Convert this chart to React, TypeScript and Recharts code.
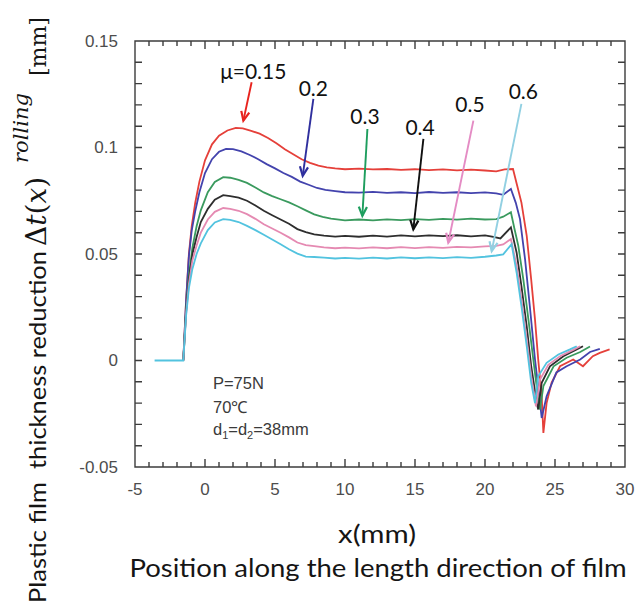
import React from 'react';
import { LineChart, Line, XAxis, YAxis, ReferenceLine, ReferenceDot } from 'recharts';

type Pt = [number, number];

// Thickness reduction profiles (x in mm, reduction in mm) for each friction coefficient
const mu015: Pt[] = [
  [-1.55, 0], [-1.35, 0.028], [-1.15, 0.05], [-0.95, 0.063], [-0.7, 0.074], [-0.4, 0.084], [0, 0.094],
  [0.5, 0.1015], [1.0, 0.1055], [1.6, 0.108], [2.2, 0.1092], [2.7, 0.109], [3.3, 0.1078], [3.9, 0.1065],
  [4.5, 0.1045], [5.1, 0.102], [5.7, 0.0992], [6.3, 0.0968], [6.9, 0.0945], [7.5, 0.0928], [8.1, 0.0915],
  [8.7, 0.0907], [9.3, 0.0902], [10, 0.0898], [11, 0.0901], [12, 0.0897], [13, 0.0899], [14, 0.0895],
  [15, 0.0898], [16, 0.0894], [17, 0.0897], [18, 0.0893], [19, 0.0896], [20, 0.0892], [20.8, 0.0888],
  [21.4, 0.0897], [22.0, 0.0899], [22.3, 0.082], [22.6, 0.0742], [22.98, 0.0585], [23.3, 0.038],
  [23.57, 0.0193], [23.8, 0.0005], [24.05, -0.0168], [24.17, -0.034], [24.4, -0.02], [24.76, -0.0104],
  [25.36, -0.0027], [26.3, 0.0005], [27.0, -0.0027], [27.7, 0.002], [28.2, 0.0036], [28.9, 0.0052],
];

const mu02: Pt[] = [
  [-1.55, 0], [-1.35, 0.028], [-1.15, 0.049], [-0.95, 0.061], [-0.7, 0.07], [-0.4, 0.079], [0, 0.088],
  [0.5, 0.0945], [1.0, 0.098], [1.5, 0.0993], [2.0, 0.0992], [2.6, 0.0982], [3.2, 0.0965], [3.8, 0.0945],
  [4.4, 0.0922], [5.0, 0.0902], [5.6, 0.088], [6.2, 0.0862], [6.8, 0.084], [7.4, 0.0825], [8.0, 0.081],
  [8.6, 0.0801], [9.3, 0.0795], [10, 0.079], [11, 0.0788], [12, 0.0792], [13, 0.0787], [14, 0.079],
  [15, 0.0786], [16, 0.0791], [17, 0.0787], [18, 0.079], [19, 0.0786], [20, 0.0789], [20.8, 0.0785],
  [21.3, 0.0778], [21.85, 0.0805], [22.2, 0.074], [22.5, 0.0664], [22.86, 0.0476], [23.2, 0.0256],
  [23.57, 0.0005], [23.93, -0.0199], [24.05, -0.027], [24.4, -0.0168], [25.1, -0.0056], [25.83, -0.0027],
  [26.8, 0.0005], [27.5, 0.004], [28.2, 0.0055],
];

const mu03: Pt[] = [
  [-1.55, 0], [-1.35, 0.024], [-1.15, 0.04], [-0.9, 0.053], [-0.6, 0.063], [-0.3, 0.0705], [0.2, 0.079],
  [0.7, 0.0838], [1.3, 0.0861], [1.8, 0.0858], [2.4, 0.0848], [3.0, 0.0834], [3.6, 0.0812], [4.2, 0.0789],
  [4.8, 0.0772], [5.4, 0.0757], [6.0, 0.0742], [6.6, 0.0724], [7.2, 0.0705], [7.8, 0.0686], [8.4, 0.0674],
  [9.0, 0.0666], [10, 0.0658], [11, 0.0662], [12, 0.0658], [13, 0.0663], [14, 0.0659], [15, 0.0664],
  [16, 0.066], [17, 0.0665], [18, 0.0661], [19, 0.0666], [20, 0.0662], [20.8, 0.0664], [21.3, 0.0675],
  [21.85, 0.0696], [22.1, 0.062], [22.38, 0.0538], [22.74, 0.038], [23.1, 0.0193], [23.45, 0.0005],
  [23.8, -0.018], [23.93, -0.023], [24.17, -0.012], [24.9, -0.0027], [25.83, 0.0013], [26.8, 0.004],
  [27.5, 0.0066],
];

const mu04: Pt[] = [
  [-1.55, 0], [-1.35, 0.023], [-1.15, 0.038], [-0.9, 0.05], [-0.6, 0.058], [-0.3, 0.065], [0.2, 0.0712],
  [0.7, 0.0755], [1.3, 0.0776], [1.8, 0.0772], [2.4, 0.0765], [3.0, 0.075], [3.6, 0.0728], [4.2, 0.0703],
  [4.8, 0.0682], [5.4, 0.0662], [6.0, 0.0642], [6.6, 0.0617], [7.2, 0.0603], [7.8, 0.0592], [8.5, 0.0586],
  [9.3, 0.0582], [10, 0.0585], [11, 0.0581], [12, 0.0586], [13, 0.0582], [14, 0.0587], [15, 0.0583],
  [16, 0.0587], [17, 0.0584], [18, 0.0588], [19, 0.0583], [20, 0.0587], [20.6, 0.058], [21.1, 0.0573],
  [21.85, 0.0625], [22.26, 0.0506], [22.6, 0.035], [22.98, 0.016], [23.3, -0.0027], [23.7, -0.02],
  [23.8, -0.023], [24.05, -0.0105], [24.64, -0.0027], [25.6, 0.002], [26.55, 0.0052], [27.0, 0.0067],
];

const mu05: Pt[] = [
  [-1.55, 0], [-1.35, 0.022], [-1.15, 0.036], [-0.9, 0.047], [-0.6, 0.054], [-0.3, 0.06], [0.2, 0.0662],
  [0.7, 0.0698], [1.3, 0.0716], [1.8, 0.0712], [2.4, 0.0703], [3.0, 0.0687], [3.6, 0.0665], [4.2, 0.064],
  [4.8, 0.062], [5.4, 0.06], [6.0, 0.0578], [6.6, 0.0554], [7.2, 0.0542], [7.8, 0.0537], [8.5, 0.0531],
  [9.3, 0.0527], [10, 0.053], [11, 0.0526], [12, 0.0531], [13, 0.0527], [14, 0.0532], [15, 0.0528],
  [16, 0.0532], [17, 0.0529], [18, 0.0533], [19, 0.0531], [20, 0.0536], [20.8, 0.0538], [21.3, 0.0545],
  [21.85, 0.057], [22.26, 0.0444], [22.6, 0.0287], [22.98, 0.0099], [23.3, -0.0074], [23.64, -0.0215],
  [23.93, -0.009], [24.52, -0.002], [25.36, 0.002], [26.3, 0.005], [26.8, 0.0067],
];

const mu06: Pt[] = [
  [-3.6, 0], [-1.55, 0], [-1.35, 0.021], [-1.15, 0.034], [-0.9, 0.043], [-0.6, 0.05], [-0.3, 0.055],
  [0.2, 0.0612], [0.7, 0.0648], [1.3, 0.0664], [1.8, 0.066], [2.4, 0.065], [3.0, 0.0632], [3.6, 0.0612],
  [4.2, 0.059], [4.8, 0.0568], [5.4, 0.0546], [6.0, 0.0522], [6.6, 0.0502], [7.2, 0.0488], [7.8, 0.0486],
  [8.5, 0.0483], [9.3, 0.0479], [10, 0.0482], [11, 0.0478], [12, 0.0483], [13, 0.0479], [14, 0.0484],
  [15, 0.048], [16, 0.0484], [17, 0.0481], [18, 0.0485], [19, 0.0482], [20, 0.0487], [20.8, 0.0493],
  [21.3, 0.0498], [21.9, 0.0546], [22.26, 0.0412], [22.6, 0.0256], [22.98, 0.0067], [23.3, -0.0105],
  [23.57, -0.02], [23.8, -0.0074], [24.4, -0.0011], [25.24, 0.0028], [26.07, 0.0052], [26.55, 0.0067],
];

// Axis ranges and ticks (every 1 mm / 0.01 mm; labelled every 5 mm / 0.05 mm)
const xDomain: [number, number] = [-5, 30];
const yDomain: [number, number] = [-0.05, 0.15];
const xTicks = [-5, -4, -3, -2, -1, 0, 1, 2, 3, 4, 5, 6, 7, 8, 9, 10, 11, 12, 13, 14, 15, 16, 17, 18, 19, 20,
  21, 22, 23, 24, 25, 26, 27, 28, 29, 30];
const xLabelTicks = [-5, 0, 5, 10, 15, 20, 25, 30];
const yTicks = [-0.05, -0.04, -0.03, -0.02, -0.01, 0, 0.01, 0.02, 0.03, 0.04, 0.05, 0.06, 0.07, 0.08, 0.09,
  0.1, 0.11, 0.12, 0.13, 0.14, 0.15];
const yLabelTicks = [-0.05, 0, 0.05, 0.1, 0.15];

// Curve labels: text position, arrow tail, arrow head (data coordinates)
const curveLabels = ['μ=0.15', '0.2', '0.3', '0.4', '0.5', '0.6'];
const labelPos: Pt[] = [[3.45, 0.1361], [7.74, 0.1283], [11.43, 0.115], [15.36, 0.11], [18.93, 0.1205], [22.74, 0.1267]];
const arrowFrom: Pt[] = [[3.33, 0.1306], [7.74, 0.1228], [11.6, 0.1087], [15.6, 0.104], [19.17, 0.1126], [22.6, 0.1205]];
const arrowTo: Pt[] = [[2.74, 0.1126], [6.98, 0.0867], [11.24, 0.0679], [14.88, 0.0616], [17.38, 0.0554], [20.48, 0.0514]];

const lineColors = ['#e5403a', '#4343ad', '#3a9a5e', '#2e2e2e', '#e58ab2', '#52c3df'];
const arrowColors = ['#e8231e', '#2f2f9e', '#1e9e5e', '#111111', '#e48cc4', '#92d0e2'];

const seriesData = [mu015, mu02, mu03, mu04, mu05, mu06];

const conditionLines = ['P=75N', '70℃'];

// Chart layout
const W = 640;
const H = 609;
const MARGIN = { top: 41, right: 15, bottom: 0, left: 0 };
const Y_AXIS_W = 135;
const X_AXIS_H = 142;
const PLOT_L = MARGIN.left + Y_AXIS_W;
const PLOT_R = W - MARGIN.right;
const PLOT_T = MARGIN.top;
const PLOT_B = H - MARGIN.bottom - X_AXIS_H;

const FRAME = '#3c3c3c';
const TICK_FONT = '"Liberation Sans", Arial, sans-serif';
const SANS = 'Lato, "Open Sans", sans-serif';
const SERIF = '"DejaVu Serif", serif';

// Axis tick labels
const BottomLabel = (props: any) => {
  const { x, y, payload } = props;
  const v = payload.value;
  if (!xLabelTicks.includes(v)) return <g />;
  return (
    <text x={x} y={y + 22} textAnchor="middle" dominantBaseline="central" fontFamily={TICK_FONT}
      fontSize={17} fill="#4d4d4d">{v}</text>
  );
};

const LeftLabel = (props: any) => {
  const { x, y, payload } = props;
  const v = payload.value;
  if (!yLabelTicks.includes(v)) return <g />;
  return (
    <text x={x - 17} y={y} textAnchor="end" dominantBaseline="central" fontFamily={TICK_FONT}
      fontSize={17} fill="#4d4d4d">{String(v)}</text>
  );
};

const sx = (v: number) => PLOT_L + ((v - xDomain[0]) / (xDomain[1] - xDomain[0])) * (PLOT_R - PLOT_L);
const sy = (v: number) => PLOT_B - ((v - yDomain[0]) / (yDomain[1] - yDomain[0])) * (PLOT_B - PLOT_T);

// Box frame with inward tick marks on all four sides, drawn as one path
const framePath = (): string => {
  const parts: string[] = [];
  parts.push(`M${PLOT_L},${PLOT_T}H${PLOT_R}V${PLOT_B}H${PLOT_L}Z`);
  xTicks.forEach((v) => {
    const len = xLabelTicks.includes(v) ? 8 : 5;
    const x = sx(v);
    parts.push(`M${x},${PLOT_B}v${-len}M${x},${PLOT_T}v${len}`);
  });
  yTicks.forEach((v) => {
    const y = sy(v);
    parts.push(`M${PLOT_L},${y}h7M${PLOT_R},${y}h-7`);
  });
  return parts.join('');
};

const arrowShape = (color: string) => (p: any) => {
  const { x1, y1, x2, y2 } = p;
  const ang = Math.atan2(y2 - y1, x2 - x1);
  const len = 10;
  const spread = 0.42;
  const ax = x2 - len * Math.cos(ang - spread);
  const ay = y2 - len * Math.sin(ang - spread);
  const bx = x2 - len * Math.cos(ang + spread);
  const by = y2 - len * Math.sin(ang + spread);
  return (
    <g>
      <line x1={x1} y1={y1} x2={x2} y2={y2} stroke={color} strokeWidth={1.9} />
      <path d={`M${ax},${ay}L${x2},${y2}L${bx},${by}`} fill="none" stroke={color} strokeWidth={2.2}
        strokeLinejoin="miter" />
    </g>
  );
};

const labelShape = (text: string) => (p: any) => (
  <text x={p.cx} y={p.cy} textAnchor="middle" dominantBaseline="central" fontFamily={SANS} fontSize={21}
    fill="#111">{text}</text>
);

const conditionShape = (p: any) => (
  <g fontFamily={TICK_FONT} fontSize={16.5} fill="#3a3a3a">
    <text x={p.cx} y={p.cy}>{conditionLines[0]}</text>
    <text x={p.cx} y={p.cy + 24.5}>{conditionLines[1]}</text>
    <text x={p.cx} y={p.cy + 46.5}>
      d<tspan fontSize={11} dy={4}>1</tspan>
      <tspan dy={-4}>=d</tspan>
      <tspan fontSize={11} dy={4}>2</tspan>
      <tspan dy={-4}>=38mm</tspan>
    </text>
  </g>
);

export default function App() {
  return (
    <div style={{ position: 'absolute', left: 0, top: 0, width: W, height: H, background: '#fff' }}>
      <LineChart width={W} height={H} margin={MARGIN}>
        <XAxis dataKey="x" type="number" domain={xDomain} ticks={xTicks} interval={0} height={X_AXIS_H}
          tickSize={0} tickMargin={0} tickLine={false} axisLine={false}
          tick={BottomLabel} allowDataOverflow />
        <YAxis type="number" domain={yDomain} ticks={yTicks} interval={0} width={Y_AXIS_W}
          tickSize={0} tickMargin={0} tickLine={false} axisLine={false}
          tick={LeftLabel} allowDataOverflow />

        {seriesData.map((pts, i) => (
          <Line key={curveLabels[i]} data={pts.map(([x, y]) => ({ x, y }))} dataKey="y" type="linear"
            stroke={lineColors[i]} strokeWidth={1.8} dot={false} activeDot={false} isAnimationActive={false} />
        ))}

        {curveLabels.map((t, i) => (
          <ReferenceLine key={'a' + t} segment={[{ x: arrowFrom[i][0], y: arrowFrom[i][1] }, { x: arrowTo[i][0], y: arrowTo[i][1] }]}
            shape={arrowShape(arrowColors[i])} />
        ))}
        {curveLabels.map((t, i) => (
          <ReferenceDot key={'l' + t} x={labelPos[i][0]} y={labelPos[i][1]} r={1} shape={labelShape(t)} />
        ))}
        <ReferenceDot x={0.57} y={-0.01315} r={1} shape={conditionShape} />
      </LineChart>

      <svg width={W} height={H} style={{ position: 'absolute', left: 0, top: 0, pointerEvents: 'none' }}>
        <path d={framePath()} fill="none" stroke={FRAME} strokeWidth={1.4} />
        <g fill="#151515">
          <text x={377} y={543} textAnchor="middle" fontFamily={SANS} fontSize={25} textLength={78}
            lengthAdjust="spacingAndGlyphs">x(mm)</text>
          <text x={378} y={577} textAnchor="middle" fontFamily={SANS} fontSize={25} textLength={497}
            lengthAdjust="spacingAndGlyphs">Position along the length direction of film</text>

          <text x={46} y={603} transform="rotate(-90 46 603)" fontFamily={SANS} fontSize={24} textLength={352}
            lengthAdjust="spacingAndGlyphs">{'Plastic film\u00a0 thickness reduction'}</text>
          <text x={46} y={246} transform="rotate(-90 46 246)" fontFamily={SERIF} fontSize={28}>
            Δ<tspan fontStyle="italic">t</tspan>(<tspan fontStyle="italic">x</tspan>)
          </text>
          <text x={28} y={163} transform="rotate(-90 28 163)" fontFamily={SERIF} fontSize={20}
            fontStyle="italic" textLength={70} lengthAdjust="spacingAndGlyphs">rolling</text>
          <text x={46} y={76} transform="rotate(-90 46 76)" fontFamily={SERIF} fontSize={22}>[mm]</text>
        </g>
      </svg>
    </div>
  );
}
